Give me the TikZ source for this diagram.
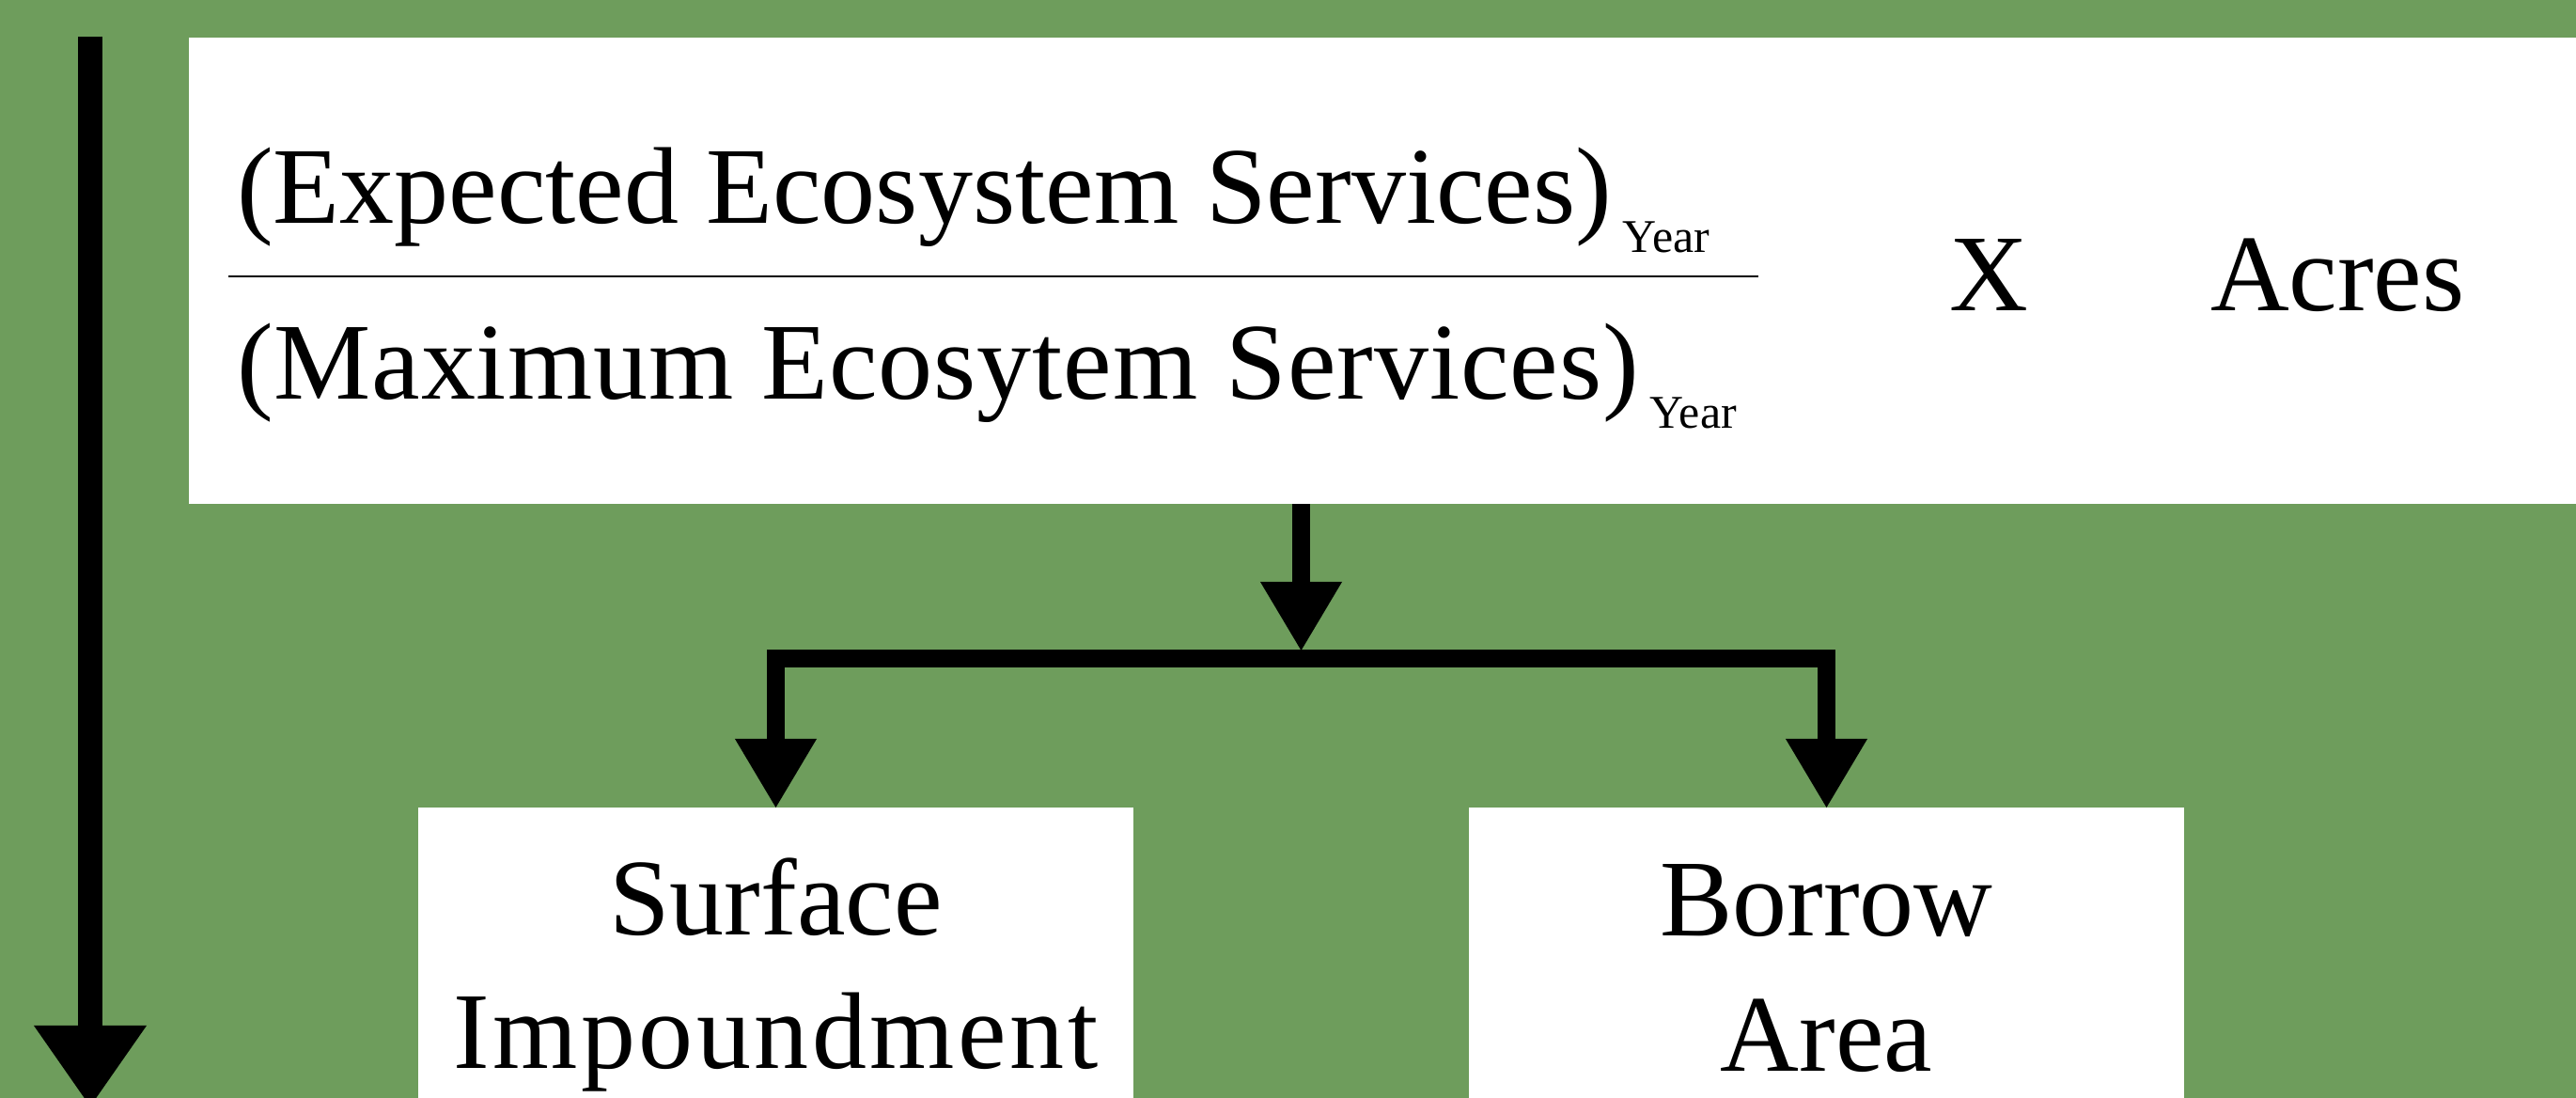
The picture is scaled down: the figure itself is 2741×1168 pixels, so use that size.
\documentclass[tikz,border=0pt]{standalone}
\usepackage{fontspec}
\setmainfont{Liberation Serif}
\usetikzlibrary{arrows.meta}
\definecolor{leaf}{RGB}{110,157,92}
% lowered small label after a bracket
\newcommand\yearsub[1]{\hspace{0.12cm}\raisebox{-0.30cm}{\fontsize{14.2}{16}\selectfont #1}}

\begin{document}
\begin{tikzpicture}[x=0.01cm,y=-0.01cm,
  whitebox/.style={fill=white, draw=none, inner sep=0pt, outer sep=0pt},
  bigtxt/.style={inner sep=0pt, outer sep=0pt, font=\fontsize{33}{40}\selectfont},
  flow/.style={line width=0.19cm, -{Triangle[width=0.87cm,length=0.73cm,line width=0pt]}},
  bigflow/.style={line width=0.26cm, -{Triangle[width=1.2cm,length=0.86cm,line width=0pt]}},
]
\fill[leaf] (0,0) rectangle (2741,1168);
\useasboundingbox (0,0) rectangle (2741,1168);
\clip (0,0) rectangle (2741,1168);

% formula panel
\node[whitebox, anchor=north west, minimum width=25.40cm, minimum height=4.96cm] (formula) at (201,40) {};
\node[bigtxt, anchor=base west] (numer) at (252,238) {(Expected Ecosystem Services)\yearsub{Year}};
\node[bigtxt, anchor=base west] (denom) at (252,425) {{\addfontfeatures{LetterSpace=0.8}(Maximum Ecosytem Services)}\yearsub{Year}};
\coordinate (barL) at (243,294);
\coordinate (barR) at (1871,294);
\draw[line width=0.025cm] (barL) -- (barR);
\node[bigtxt, anchor=base west] (times) at (2074,331) {X};
\node[bigtxt, anchor=base west] (acres) at (2352,331) {Acres};

% target boxes
\node[whitebox, anchor=north, minimum width=7.61cm, minimum height=4cm] (surface) at (825.5,859) {};
\node[whitebox, anchor=north, minimum width=7.61cm, minimum height=4cm] (borrow) at (1943.5,859) {};
\node[bigtxt, anchor=base] (surf1) at (825.5,995) {Surface};
\node[bigtxt, anchor=base] (surf2) at (825.5,1137) {\addfontfeatures{LetterSpace=3}Impoundment};
\node[bigtxt, anchor=base] (bor1) at (1943.5,996) {Borrow};
\node[bigtxt, anchor=base] (bor2) at (1943.5,1140) {Area};

% split connector
\coordinate (split) at (1384.5,701);
\draw[flow] (formula.south -| split) -- ([yshift=0.09cm]split);
\draw[flow] (split) -| (surface.north);
\draw[flow] (split) -| (borrow.north);

% long arrow on the left
\coordinate (railtop) at (96,39);
\coordinate (railend) at (96,1177);
\draw[bigflow] (railtop) -- (railend);
\end{tikzpicture}
\end{document}
